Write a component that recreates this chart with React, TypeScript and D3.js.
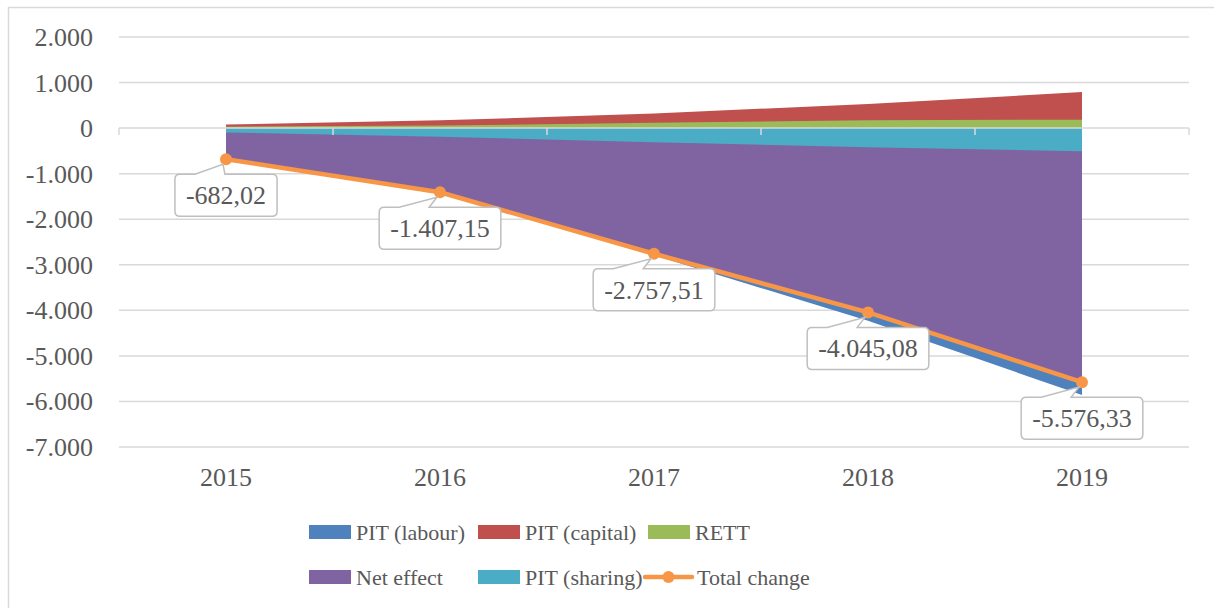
import React, { useEffect, useRef } from "react";
import * as d3 from "d3";

const years = ["2015", "2016", "2017", "2018", "2019"];
const pitLabour = [-690, -1420, -2790, -4230, -5860];
const pitCapital = [80, 170, 320, 530, 790];
const rett = [30, 55, 115, 175, 185];
const netEffect = [-682, -1407, -2757, -4045, -5576];
const pitSharing = [-95, -190, -310, -420, -510];
const totalChange = [-682.02, -1407.15, -2757.51, -4045.08, -5576.33];
const yTicks = [2000, 1000, 0, -1000, -2000, -3000, -4000, -5000, -6000, -7000];

const areaSeries = [
  { name: "PIT (labour)", values: pitLabour, color: "#4F81BD" },
  { name: "PIT (capital)", values: pitCapital, color: "#C0504D" },
  { name: "RETT", values: rett, color: "#9BBB59" },
  { name: "Net effect", values: netEffect, color: "#8064A2" },
  { name: "PIT (sharing)", values: pitSharing, color: "#4BACC6" },
];
const lineColor = "#F79646";

const W = 1214;
const H = 608;
const FONT = "'Liberation Serif', 'Times New Roman', serif";
const TXT = "#595959";
const GRID = "#d9d9d9";

const fmtNum = (v: number, dec: number) => {
  const neg = v < 0;
  const s = Math.abs(v).toFixed(dec);
  const [ip, fp] = s.split(".");
  const ipg = ip.replace(/\B(?=(\d{3})+(?!\d))/g, ".");
  return (neg ? "-" : "") + ipg + (fp ? "," + fp : "");
};

export default function App() {
  const ref = useRef<SVGSVGElement | null>(null);

  useEffect(() => {
    const svg = d3.select(ref.current);
    svg.selectAll("*").remove();

    const x = d3.scaleBand<string>().domain(years).range([119, 1189]).padding(0);
    const y = d3.scaleLinear().domain([-7000, 2000]).range([447, 37]);
    const cx = (i: number) => (x(years[i]) as number) + x.bandwidth() / 2;
    const y0 = y(0);

    // outer border
    svg.append("rect")
      .attr("x", 8.5).attr("y", 7.5).attr("width", 1300).attr("height", 700)
      .attr("fill", "white").attr("stroke", GRID).attr("stroke-width", 1.5);

    // gridlines
    svg.append("g").selectAll("line").data(yTicks.filter((t) => t !== 0)).join("line")
      .attr("x1", 119).attr("x2", 1189)
      .attr("y1", (d) => y(d)).attr("y2", (d) => y(d))
      .attr("stroke", GRID).attr("stroke-width", 1.5);

    // y tick labels
    svg.append("g").selectAll("text").data(yTicks).join("text")
      .attr("x", 93).attr("y", (d) => y(d) + 9)
      .attr("text-anchor", "end")
      .attr("font-family", FONT).attr("font-size", 26).attr("fill", TXT)
      .text((d) => fmtNum(d, 0));

    // areas (overlapping, drawn in series order)
    const area = d3.area<number>()
      .x((_, i) => cx(i))
      .y0(y0)
      .y1((d) => y(d));
    areaSeries.forEach((s) => {
      svg.append("path").attr("d", area(s.values) as string).attr("fill", s.color);
    });

    // zero axis line + ticks
    svg.append("line").attr("x1", 119).attr("x2", 1189).attr("y1", y0).attr("y2", y0)
      .attr("stroke", GRID).attr("stroke-width", 1.5);
    const bounds = years.map((yr) => x(yr) as number).concat([1189]);
    svg.append("g").selectAll("line").data(bounds).join("line")
      .attr("x1", (d) => d).attr("x2", (d) => d)
      .attr("y1", y0).attr("y2", y0 + 7)
      .attr("stroke", GRID).attr("stroke-width", 1.5);

    // x labels
    svg.append("g").selectAll("text").data(years).join("text")
      .attr("x", (_, i) => cx(i)).attr("y", 486)
      .attr("text-anchor", "middle")
      .attr("font-family", FONT).attr("font-size", 26).attr("fill", TXT)
      .text((d) => d);

    // total change line
    const line = d3.line<number>().x((_, i) => cx(i)).y((d) => y(d));
    svg.append("path").attr("d", line(totalChange) as string)
      .attr("fill", "none").attr("stroke", lineColor).attr("stroke-width", 4.5)
      .attr("stroke-linejoin", "round");
    svg.append("g").selectAll("circle").data(totalChange).join("circle")
      .attr("cx", (_, i) => cx(i)).attr("cy", (d) => y(d)).attr("r", 6)
      .attr("fill", lineColor);

    // data labels (callouts)
    const lg = svg.append("g");
    totalChange.forEach((v, i) => {
      const px = cx(i);
      const py = y(v);
      const g = lg.append("g");
      const path = g.append("path");
      const t = g.append("text")
        .attr("font-family", FONT).attr("font-size", 26).attr("fill", TXT)
        .attr("text-anchor", "middle")
        .text(fmtNum(v, 2));
      const tw = (t.node() as SVGTextElement).getComputedTextLength();
      const bw = tw + 22;
      const bh = 42;
      const left = px - bw / 2;
      const top = py + 15;
      const right = left + bw;
      const bottom = top + bh;
      const r = 5;
      const tipX = px - 3;
      const tipY = py + 5;
      const d =
        `M${left + r},${top} L${left + 20},${top} L${tipX},${tipY} L${left + 50},${top} ` +
        `L${right - r},${top} Q${right},${top} ${right},${top + r} ` +
        `L${right},${bottom - r} Q${right},${bottom} ${right - r},${bottom} ` +
        `L${left + r},${bottom} Q${left},${bottom} ${left},${bottom - r} ` +
        `L${left},${top + r} Q${left},${top} ${left + r},${top} Z`;
      path.attr("d", d).attr("fill", "white").attr("stroke", "#bfbfbf").attr("stroke-width", 1.5);
      t.attr("x", px).attr("y", top + bh / 2 + 9);
    });

    // legend
    const legendItems = [
      { name: "PIT (labour)", color: areaSeries[0].color, x: 309, y: 532, type: "rect" },
      { name: "PIT (capital)", color: areaSeries[1].color, x: 478, y: 532, type: "rect" },
      { name: "RETT", color: areaSeries[2].color, x: 648, y: 532, type: "rect" },
      { name: "Net effect", color: areaSeries[3].color, x: 309, y: 577, type: "rect" },
      { name: "PIT (sharing)", color: areaSeries[4].color, x: 478, y: 577, type: "rect" },
      { name: "Total change", color: lineColor, x: 645, y: 577, type: "line" },
    ];
    const leg = svg.append("g");
    legendItems.forEach((it) => {
      if (it.type === "rect") {
        leg.append("rect").attr("x", it.x).attr("y", it.y - 7).attr("width", 42).attr("height", 14)
          .attr("fill", it.color);
        leg.append("text").attr("x", it.x + 47).attr("y", it.y + 8)
          .attr("font-family", FONT).attr("font-size", 22).attr("fill", TXT).text(it.name);
      } else {
        leg.append("line").attr("x1", it.x).attr("x2", it.x + 47).attr("y1", it.y).attr("y2", it.y)
          .attr("stroke", it.color).attr("stroke-width", 4.5).attr("stroke-linecap", "round");
        leg.append("circle").attr("cx", it.x + 23.5).attr("cy", it.y).attr("r", 6).attr("fill", it.color);
        leg.append("text").attr("x", it.x + 52).attr("y", it.y + 8)
          .attr("font-family", FONT).attr("font-size", 22).attr("fill", TXT).text(it.name);
      }
    });
  }, []);

  return (
    <svg
      ref={ref}
      width={W}
      height={H}
      style={{ position: "absolute", left: 0, top: 0, display: "block", background: "white" }}
    />
  );
}
